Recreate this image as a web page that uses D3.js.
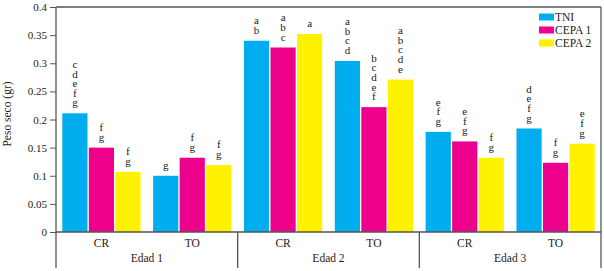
<!DOCTYPE html>
<html><head><meta charset="utf-8">
<script src="https://cdn.jsdelivr.net/npm/d3@7"></script>
<style>
html,body{margin:0;padding:0;background:#fff;}
</style></head>
<body><svg id="c" width="604" height="271"></svg>
<script>
const ages = ["Edad 1", "Edad 2", "Edad 3"];
const subs = ["CR", "TO"];
const seriesNames = ["TNI", "CEPA 1", "CEPA 2"];
const colors = ["#00AEEF", "#EC008C", "#FFF200"];
// values per series, ordered: Edad1 CR, Edad1 TO, Edad2 CR, Edad2 TO, Edad3 CR, Edad3 TO
const tniValues   = [0.211, 0.100, 0.340, 0.304, 0.178, 0.184];
const cepa1Values = [0.150, 0.132, 0.328, 0.222, 0.161, 0.123];
const cepa2Values = [0.107, 0.119, 0.352, 0.271, 0.132, 0.157];
const tniLetters   = ["cdefg", "g", "ab", "abcd", "efg", "defg"];
const cepa1Letters = ["fg", "fg", "abc", "bcdef", "efg", "fg"];
const cepa2Letters = ["fg", "fg", "a", "abcde", "fg", "efg"];
const yTicks = [0, 0.05, 0.1, 0.15, 0.2, 0.25, 0.3, 0.35, 0.4];
const yTickLabels = ["0", "0.05", "0.1", "0.15", "0.2", "0.25", "0.3", "0.35", "0.4"];
const yTitle = "Peso seco (gr)";

const FONT = "'Liberation Serif', 'Times New Roman', serif";
const svg = d3.select("#c").attr("font-family", FONT);
const L = 56, R = 601, T = 7, B = 232, Bext = 268;
const axisColor = "#555";
const textColor = "#222";

const y = d3.scaleLinear().domain([0, 0.4]).range([B, T]);
const x0 = d3.scaleBand().domain(ages).range([L, R]);
const x1 = d3.scaleBand().domain(subs).range([0, x0.bandwidth()]);
const x2 = d3.scaleBand().domain(seriesNames).range([6.3, x1.bandwidth() - 6.3]).paddingInner(0.05);

const allVals = [tniValues, cepa1Values, cepa2Values];
const allLetters = [tniLetters, cepa1Letters, cepa2Letters];
const data = [];
ages.forEach((a, ai) => subs.forEach((s, si) => seriesNames.forEach((n, ni) => {
  const idx = ai * 2 + si;
  data.push({age: a, sub: s, series: n, value: allVals[ni][idx], letters: allLetters[ni][idx], color: colors[ni]});
})));

// bars
svg.append("g").selectAll("rect").data(data).join("rect")
  .attr("x", d => x0(d.age) + x1(d.sub) + x2(d.series))
  .attr("width", x2.bandwidth())
  .attr("y", d => y(d.value))
  .attr("height", d => B - y(d.value))
  .attr("fill", d => d.color);

// letters (stacked vertically, one text element per bar)
const lineH = 9.6;
const lg = svg.append("g").attr("font-size", 11).attr("text-anchor", "middle").attr("fill", textColor);
data.forEach(d => {
  const cx = x0(d.age) + x1(d.sub) + x2(d.series) + x2.bandwidth() / 2;
  const chars = d.letters.split("");
  const n = chars.length;
  const t = lg.append("text").attr("x", cx).attr("y", y(d.value) - 7 - (n - 1) * lineH);
  chars.forEach((ch, i) => {
    t.append("tspan").attr("x", cx).attr("dy", i === 0 ? 0 : lineH).text(ch);
  });
});

// y axis
const yAxis = d3.axisLeft(y).tickValues(yTicks).tickFormat((d, i) => yTickLabels[i]).tickSize(6).tickSizeOuter(0);
const ga = svg.append("g").attr("transform", `translate(${L},0)`).call(yAxis);
ga.attr("font-family", FONT).attr("font-size", 11);
ga.select(".domain").remove();
ga.selectAll("line").attr("stroke", axisColor);
ga.selectAll("text").attr("fill", textColor).attr("x", -9);

// frame lines
const line = (x1_, y1_, x2_, y2_) => svg.append("line").attr("x1", x1_).attr("x2", x2_).attr("y1", y1_).attr("y2", y2_).attr("stroke", axisColor).attr("stroke-width", 1.3);
line(L, T, L, Bext);
line(L, T, R, T);
line(L, B, R, B);
ages.forEach(a => {
  const xe = x0(a) + x0.bandwidth();
  line(xe, xe >= R - 1 ? T : B, xe, Bext);
});

// category labels
const cl = svg.append("g").attr("font-size", 11.5).attr("text-anchor", "middle").attr("fill", textColor);
ages.forEach(a => {
  subs.forEach(s => {
    cl.append("text").attr("x", x0(a) + x1(s) + x1.bandwidth() / 2).attr("y", 247).text(s);
  });
  cl.append("text").attr("x", x0(a) + x0.bandwidth() / 2).attr("y", 262).text(a);
});

// y title
svg.append("text").attr("transform", "translate(10.5,114) rotate(-90)").attr("text-anchor", "middle")
  .attr("font-size", 11.5).attr("fill", textColor).text(yTitle);

// legend
const leg = svg.append("g").attr("font-size", 11.5).attr("fill", textColor);
seriesNames.forEach((n, i) => {
  const cy = 17 + i * 13;
  leg.append("rect").attr("x", 539).attr("y", cy - 3.5).attr("width", 15).attr("height", 7).attr("fill", colors[i]);
  leg.append("text").attr("x", 555).attr("y", cy + 4).text(n);
});
</script></body></html>
